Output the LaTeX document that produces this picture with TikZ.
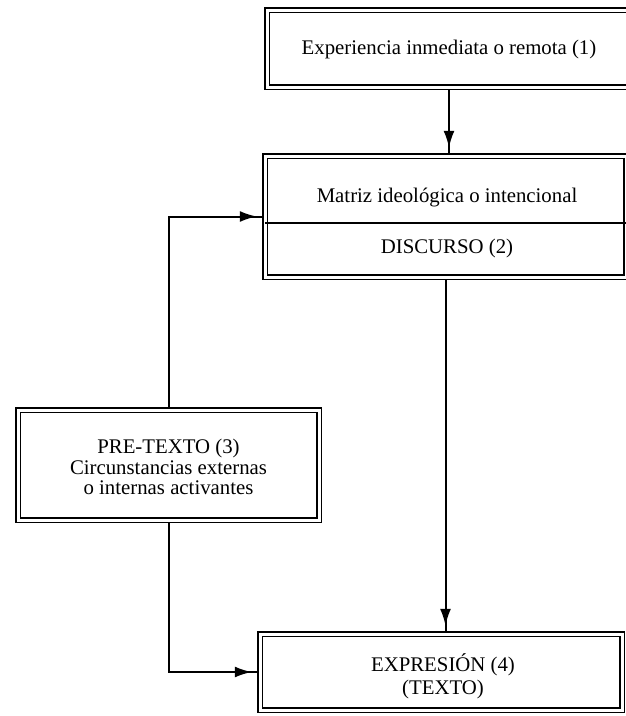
\documentclass[tikz,border=0pt]{standalone}
\usepackage{fontspec}
\setmainfont{Liberation Serif}
\usetikzlibrary{arrows.meta,decorations.markings,calc}

\begin{document}
\begin{tikzpicture}[x=1pt,y=-1pt,
  framebox/.style={draw, line width=1.7pt, double=white, double distance=3pt,
    outer sep=3.2pt, inner sep=0pt, fill=white},
  label/.style={font=\fontsize{20.8}{22}\selectfont, align=center, inner sep=0pt},
  link/.style={line width=2pt},
  arr/.style={link, postaction={decorate},
    decoration={markings, mark=at position -5pt with
      {\arrow{Latex[length=17pt,width=11pt]}}}}]

\useasboundingbox (0,0) rectangle (626,716);

% boxes
\node[framebox, minimum width=364pt, minimum height=77pt] (b1) at (449,48.5) {};
\node[framebox, minimum width=361pt, minimum height=121pt] (b2) at (445.5,216.5) {};
\node[framebox, minimum width=301pt, minimum height=110pt] (b3) at (168.5,465) {};
\node[framebox, minimum width=362pt, minimum height=76pt] (b4) at (441,672) {};

% divider of the central box
\coordinate (d) at (0,223);
\draw[line width=1.7pt] ([xshift=3pt]b2.west |- d) -- ([xshift=-3pt]b2.east |- d);

% texts
\node[label] (t1) at (449,49) {Experiencia inmediata o remota (1)};
\node[label] (t2a) at (447,198) {Matriz ideológica o intencional};
\node[label] (t2b) at (447,248) {DISCURSO (2)};
\node[label, font=\fontsize{20.8}{20.5}\selectfont] (t3) at (168.5,467)
  {PRE-TEXTO (3)\\Circunstancias externas\\o internas activantes};
\node[label, font=\fontsize{20.8}{23}\selectfont] (t4) at (443,676)
  {EXPRESIÓN (4)\\(TEXTO)};

% connectors
\coordinate (xa) at (449,0);
\draw[arr] (b1.south -| xa) -- (b2.north -| xa);
\draw[arr] (b3.north) |- (b2.west);
\draw[arr] (b2.south) -- (b2.south |- b4.north);
\draw[arr] (b3.south) |- (b4.west);
\end{tikzpicture}
\end{document}
